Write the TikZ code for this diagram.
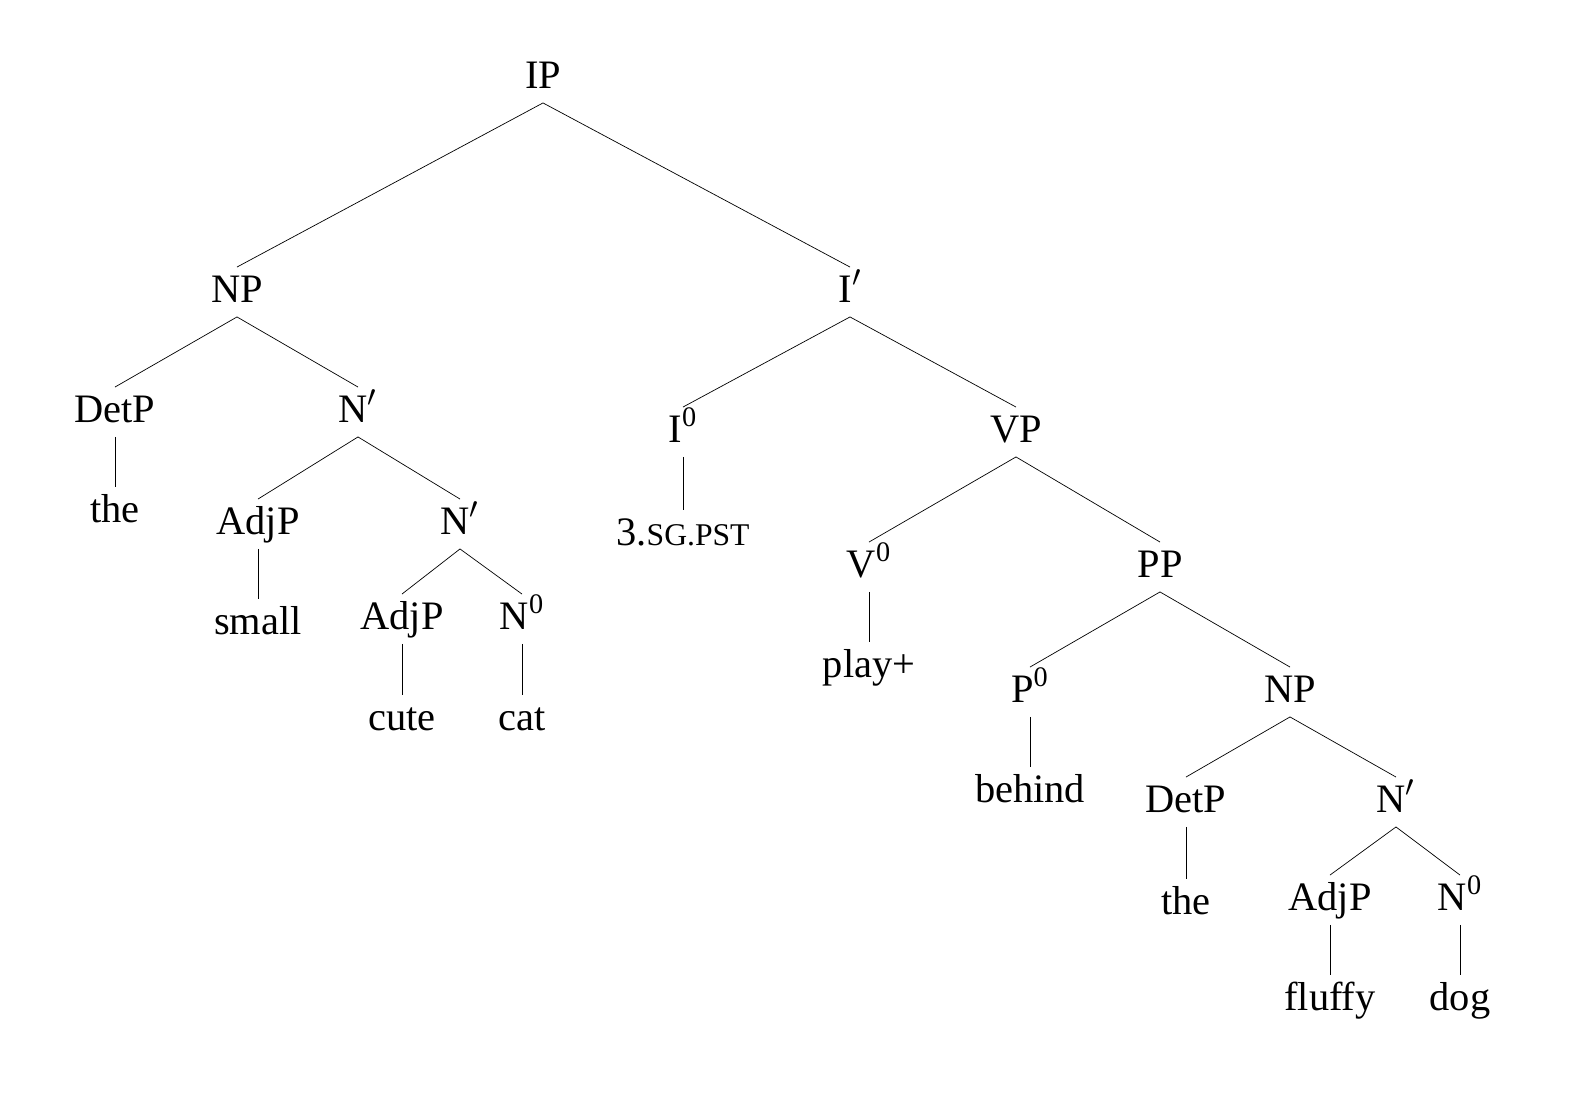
\documentclass[tikz,border=0pt]{standalone}
\usepackage{fontspec}
\setmainfont{Liberation Serif}
\usetikzlibrary{positioning}

\begin{document}
\begin{tikzpicture}[
        x=0.02cm, y=-0.02cm,
        cat/.style={font=\fontsize{23}{26}\selectfont, inner sep=3pt,
            text height=17pt, text depth=5pt},
        branch/.style={thin, black},
    ]
    \useasboundingbox (0,0) rectangle (1580,1094);

    % -- top --
    \node[cat] (ip) at (543,78) {IP};
    \node[cat] (np) at (237,292) {NP};
    \node[cat] (ibar) at (850,292) {I$'$};

    % -- subject --
    \node[cat] (detp) at (115,412) {DetP};
    \node[cat] (nbar) at (358,412) {N$'$};
    \node[cat] (the) at (115,512) {the};
    \node[cat] (adjp) at (258,524) {AdjP};
    \node[cat] (nbarb) at (460,524) {N$'$};
    \node[cat] (small) at (258,624) {small};
    \node[cat] (adjpb) at (402,619) {AdjP};
    \node[cat] (nzero) at (522,619) {N\textsuperscript{0}};
    \node[cat] (cute) at (402,720) {cute};
    \node[cat] (catw) at (522,720) {cat};

    % -- predicate --
    \node[cat] (izero) at (683,432) {I\textsuperscript{0}};
    \node[cat] (vp) at (1016,432) {VP};
    \node[cat] (infl) at (683,535) {3.{\fontsize{18}{20}\selectfont SG.PST}};
    \node[cat] (vzero) at (869,567) {V\textsuperscript{0}};
    \node[cat] (pp) at (1160,567) {PP};
    \node[cat] (play) at (869,667) {play+};
    \node[cat] (pzero) at (1030,692) {P\textsuperscript{0}};
    \node[cat] (npb) at (1290,692) {NP};
    \node[cat] (behind) at (1030,792) {behind};
    \node[cat] (detpb) at (1186,802) {DetP};
    \node[cat] (nbarc) at (1396,802) {N$'$};
    \node[cat] (theb) at (1186,904) {the};
    \node[cat] (adjpc) at (1330,900) {AdjP};
    \node[cat] (nzerob) at (1460,900) {N\textsuperscript{0}};
    \node[cat] (fluffy) at (1330,1000) {fluffy};
    \node[cat] (dog) at (1460,1000) {dog};

    % -- branches --
    \foreach \a/\b in {ip/np, ip/ibar, np/detp, np/nbar, detp/the,
        nbar/adjp, nbar/nbarb, adjp/small, nbarb/adjpb, nbarb/nzero,
        adjpb/cute, nzero/catw, ibar/izero, ibar/vp, izero/infl,
        vp/vzero, vp/pp, vzero/play, pp/pzero, pp/npb, pzero/behind,
        npb/detpb, npb/nbarc, detpb/theb, nbarc/adjpc, nbarc/nzerob,
        adjpc/fluffy, nzerob/dog}
        \draw[branch] (\a.south) -- (\b.north);

\end{tikzpicture}
\end{document}
